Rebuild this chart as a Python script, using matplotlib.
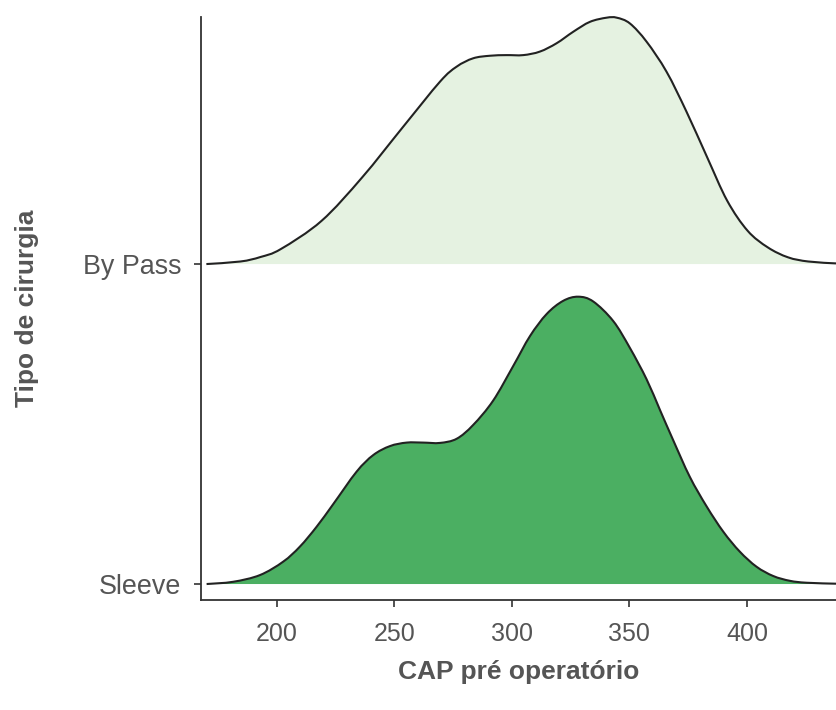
import numpy as np
import matplotlib
matplotlib.use("Agg")
from matplotlib import pyplot as plt
from matplotlib.path import Path
from matplotlib.patches import PathPatch

# categorias (de baixo para cima)
grupos = ["Sleeve", "By Pass"]
cores = ["#4baf62", "#e5f2e1"]

# densidades (CAP, altura relativa)
sleeve_x = [170.1, 181.4, 192.8, 202.7, 209.8, 216.9, 224.0, 233.9, 241.0, 248.1,
            255.2, 262.3, 269.4, 276.5, 283.5, 292.0, 300.6, 307.7, 314.8, 321.8,
            328.2, 334.6, 343.1, 350.2, 357.3, 363.0, 368.6, 375.7, 382.9, 390.0,
            397.0, 404.1, 411.2, 418.3, 425.4, 437.9]
sleeve_y = [0.0, 0.007, 0.028, 0.070, 0.117, 0.179, 0.250, 0.351, 0.403, 0.431,
            0.442, 0.442, 0.441, 0.454, 0.497, 0.573, 0.682, 0.775, 0.844, 0.885,
            0.898, 0.883, 0.822, 0.738, 0.640, 0.544, 0.450, 0.335, 0.242, 0.163,
            0.101, 0.054, 0.025, 0.010, 0.004, 0.001]

bypass_x = [170.0, 184.5, 193.0, 201.7, 219.0, 236.3, 253.5, 269.4, 276.5, 283.5,
            290.6, 297.7, 304.8, 311.9, 319.0, 326.1, 333.2, 340.3, 344.6, 350.2,
            357.3, 365.8, 374.3, 383.0, 391.6, 400.3, 408.9, 417.5, 426.1, 437.9]
bypass_y = [0.0, 0.008, 0.022, 0.047, 0.135, 0.271, 0.427, 0.570, 0.617, 0.643,
            0.651, 0.653, 0.653, 0.664, 0.690, 0.726, 0.757, 0.770, 0.770, 0.752,
            0.695, 0.601, 0.476, 0.335, 0.198, 0.104, 0.052, 0.021, 0.008, 0.002]

curvas = [(sleeve_x, sleeve_y), (bypass_x, bypass_y)]
xticks = [200, 250, 300, 350, 400]


def curva_suave(xs, ys):
    # caminho bezier (catmull-rom) passando pelos pontos lidos
    p = np.column_stack([xs, ys]).astype(float)
    verts = [p[0]]
    codes = [Path.MOVETO]
    n = len(p)
    for i in range(n - 1):
        p0 = p[max(i - 1, 0)]
        p1 = p[i]
        p2 = p[i + 1]
        p3 = p[min(i + 2, n - 1)]
        c1 = p1 + (p2 - p0) / 6
        c2 = p2 - (p3 - p1) / 6
        verts += [c1, c2, p2]
        codes += [Path.CURVE4] * 3
    return verts, codes


plt.rcParams['font.family'] = ['Liberation Sans', 'DejaVu Sans']

fig = plt.figure(figsize=(8.36, 7.10), dpi=100)
ax = fig.add_axes([0.2404, 0.1549, 0.7596, 0.8211])

for i in [1, 0]:
    xs, ys = curvas[i]
    base = i + 1
    verts, codes = curva_suave(xs, np.array(ys) + base)
    # preenchimento
    v_fill = verts + [(xs[-1], base), (xs[0], base), (xs[0], base)]
    c_fill = codes + [Path.LINETO, Path.LINETO, Path.CLOSEPOLY]
    ax.add_patch(PathPatch(Path(v_fill, c_fill), facecolor=cores[i],
                           edgecolor="none", zorder=2 + i))
    # contorno
    ax.add_patch(PathPatch(Path(verts, codes), facecolor="none",
                           edgecolor="#222222", lw=1.5, zorder=2 + i,
                           clip_on=False))

ax.set_xlim(167.7, 437.9)
ax.set_ylim(0.95, 2.772)
ax.set_xticks(xticks)
ax.set_yticks([1, 2])
ax.set_yticklabels(grupos)

for s in ["top", "right"]:
    ax.spines[s].set_visible(False)
for s in ["left", "bottom"]:
    ax.spines[s].set_color("#333333")
    ax.spines[s].set_linewidth(1.3)

ax.tick_params(axis="both", colors="#333333", length=5, width=1.2,
               labelcolor="#555555")
ax.tick_params(axis="x", labelsize=18, pad=11)
ax.tick_params(axis="y", labelsize=19.4, pad=9)

ax.set_xlabel("CAP pré operatório", fontsize=19, fontweight="bold",
              color="#555555", labelpad=10)
ax.set_ylabel("Tipo de cirurgia", fontsize=19, fontweight="bold",
              color="#555555", labelpad=32)

fig.savefig("out.png", dpi=100)
